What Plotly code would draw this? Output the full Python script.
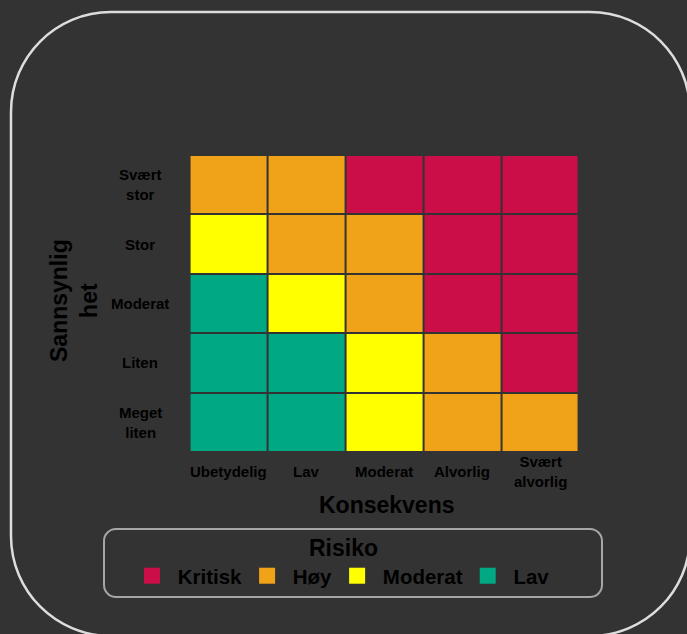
import plotly.graph_objects as go

# ---- data ----
konsekvens = ["Ubetydelig", "Lav", "Moderat", "Alvorlig", "Svært<br>alvorlig"]
sannsynlighet = ["Meget<br>liten", "Liten", "Moderat", "Stor", "Svært<br>stor"]  # bottom -> top
risk_names = ["Lav", "Moderat", "Høy", "Kritisk"]  # level 1..4
risk_colors = ["#00A984", "#FFFF00", "#F0A318", "#CB0E47"]
# risk level per cell (rows bottom -> top, columns left -> right)
risk_levels = [
    [1, 1, 2, 3, 3],  # Meget liten
    [1, 1, 2, 3, 4],  # Liten
    [1, 2, 3, 4, 4],  # Moderat
    [2, 3, 3, 4, 4],  # Stor
    [3, 3, 4, 4, 4],  # Svært stor
]
legend_order = ["Kritisk", "Høy", "Moderat", "Lav"]

# ---- layout geometry ----
W, H = 687, 634
L, R, T, B = 188, 579, 155, 452
pw, ph = R - L, B - T


def px(x):
    return (x - L) / pw


def py(y):
    return (B - y) / ph


FONT = "Liberation Sans, Arial, sans-serif"
TXT = "#000000"

# discrete colorscale
n = len(risk_colors)
cs = []
for i, c in enumerate(risk_colors):
    cs.append([i / n, c])
    cs.append([(i + 1) / n, c])

fig = go.Figure()
fig.add_trace(go.Heatmap(
    x=konsekvens, y=sannsynlighet, z=risk_levels,
    colorscale=cs, zmin=0.5, zmax=n + 0.5, showscale=False,
    xgap=2, ygap=2, hoverinfo="skip", showlegend=False,
))

# legend entries
for name in legend_order:
    c = risk_colors[risk_names.index(name)]
    fig.add_trace(go.Scatter(
        x=[None], y=[None], mode="markers", name="\u00a0" + name,
        marker=dict(symbol="square", size=16, color=c),
        showlegend=True,
    ))

annotations = []
for k in konsekvens:
    annotations.append(dict(
        x=k, xref="x", y=py(471), yref="paper", text=k, showarrow=False,
        xanchor="center", yanchor="middle", align="center",
        font=dict(family=FONT, size=15, color=TXT, weight="bold"),
    ))
for s in sannsynlighet:
    annotations.append(dict(
        x=px(140), xref="paper", y=s, yref="y", text=s, showarrow=False,
        xanchor="center", yanchor="middle", align="center",
        font=dict(family=FONT, size=15, color=TXT, weight="bold"),
    ))
annotations.append(dict(
    x=px(387), xref="paper", y=py(505), yref="paper", text="Konsekvens",
    showarrow=False, xanchor="center", yanchor="middle",
    font=dict(family=FONT, size=23, color=TXT, weight="bold"),
))
annotations.append(dict(
    x=px(74), xref="paper", y=py(300), yref="paper", text="Sannsynlig<br>het",
    showarrow=False, xanchor="center", yanchor="middle", textangle=-90, align="center",
    font=dict(family=FONT, size=23, color=TXT, weight="bold"),
))


def rounded_rect(x0, y0, x1, y1, r):
    k = 0.5523 * r
    pts = [
        ("M", [(x0 + r, y0)]),
        ("L", [(x1 - r, y0)]),
        ("C", [(x1 - r + k, y0), (x1, y0 + r - k), (x1, y0 + r)]),
        ("L", [(x1, y1 - r)]),
        ("C", [(x1, y1 - r + k), (x1 - r + k, y1), (x1 - r, y1)]),
        ("L", [(x0 + r, y1)]),
        ("C", [(x0 + r - k, y1), (x0, y1 - r + k), (x0, y1 - r)]),
        ("L", [(x0, y0 + r)]),
        ("C", [(x0, y0 + r - k), (x0 + r - k, y0), (x0 + r, y0)]),
    ]
    s = ""
    for cmd, ps in pts:
        s += cmd + " ".join(f"{px(a):.5f},{py(b):.5f}" for a, b in ps)
    return s + "Z"


shapes = [
    dict(type="path", xref="paper", yref="paper", path=rounded_rect(11, 12, 690, 636, 100),
         line=dict(color="#DDDDDD", width=2.5), fillcolor="rgba(0,0,0,0)", layer="below"),
    dict(type="path", xref="paper", yref="paper", path=rounded_rect(104, 529, 602, 597, 12),
         line=dict(color="#A6A6A6", width=2), fillcolor="rgba(0,0,0,0)", layer="below"),
]

fig.update_layout(
    width=W, height=H,
    margin=dict(l=L, r=W - R, t=T, b=H - B, pad=0),
    paper_bgcolor="#333333", plot_bgcolor="#333333",
    xaxis=dict(showticklabels=False, showgrid=False, zeroline=False, ticks="",
               showline=False, fixedrange=True),
    yaxis=dict(showticklabels=False, showgrid=False, zeroline=False, ticks="",
               showline=False, fixedrange=True),
    annotations=annotations,
    shapes=shapes,
    showlegend=True,
    legend=dict(
        orientation="h", xref="paper", yref="paper",
        x=px(132), xanchor="left", y=py(526), yanchor="top",
        bgcolor="rgba(0,0,0,0)", borderwidth=0,
        font=dict(family=FONT, size=20.5, color=TXT, weight="bold"),
        title=dict(text="Risiko", side="top center",
                   font=dict(family=FONT, size=23, color=TXT, weight="bold")),
        itemclick=False, itemdoubleclick=False,
    ),
)

fig.write_html(
    "out.html",
    config={"displayModeBar": False},
    post_script="document.body.style.margin='0';document.body.style.background='#333333';",
)
